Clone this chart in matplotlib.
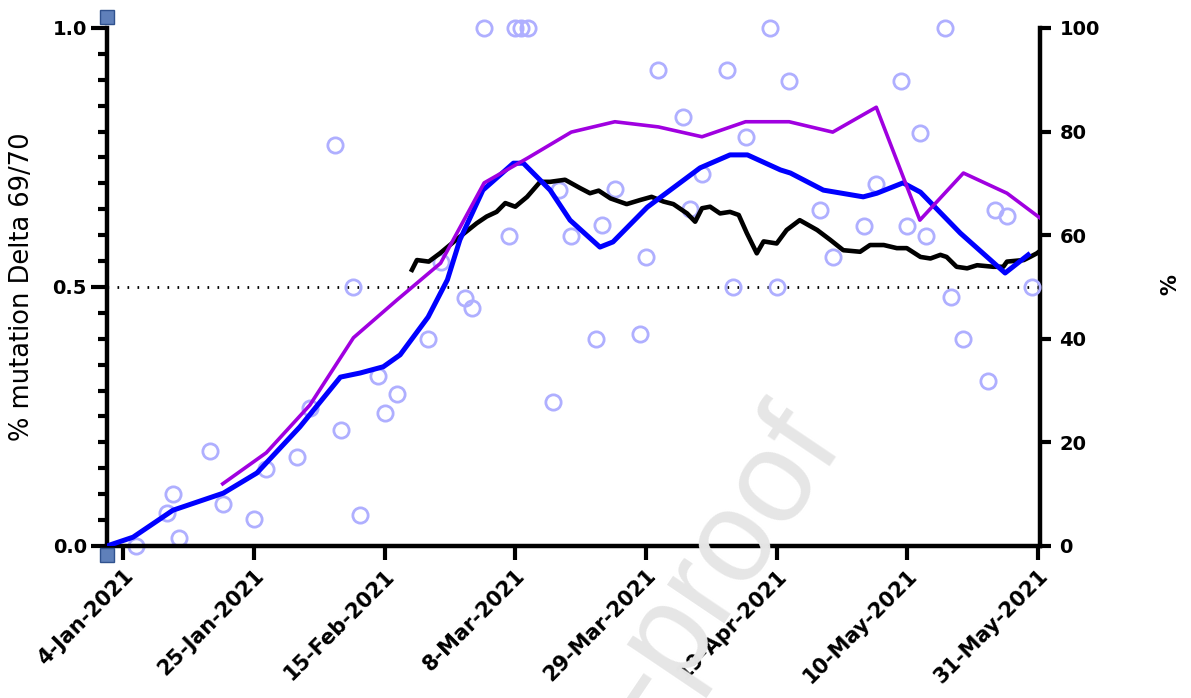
import matplotlib
matplotlib.use("Agg")
import matplotlib.pyplot as plt

plt.rcParams['font.family'] = ['DejaVu Sans']

# days counted from 4-Jan-2021
tick_days = [0, 21, 42, 63, 84, 105, 126, 147]
tick_labels = ['4-Jan-2021', '25-Jan-2021', '15-Feb-2021', '8-Mar-2021',
               '29-Mar-2021', '19-Apr-2021', '10-May-2021', '31-May-2021']

# single-sample fraction of reads with the 69/70 deletion
sample_day = [2, 7, 8, 9, 14, 16, 21, 23, 28, 30, 34, 35, 37, 38, 41, 42, 44,
              49, 51, 55, 56, 58, 62, 63, 64, 65, 69, 70, 72, 76, 77, 79, 83,
              84, 86, 90, 91, 93, 97, 98, 100, 104, 105, 107, 112, 114, 119,
              121, 125, 126, 128, 129, 132, 133, 135, 139, 140, 142, 146]
sample_frac = [0.0, 0.064, 0.10, 0.015, 0.183, 0.081, 0.052, 0.149, 0.172,
               0.266, 0.774, 0.224, 0.50, 0.060, 0.328, 0.257, 0.293, 0.40,
               0.548, 0.479, 0.459, 1.0, 0.598, 1.0, 1.0, 1.0, 0.278, 0.687,
               0.598, 0.40, 0.62, 0.689, 0.409, 0.558, 0.919, 0.828, 0.651,
               0.718, 0.919, 0.50, 0.79, 1.0, 0.50, 0.898, 0.649, 0.558,
               0.618, 0.699, 0.898, 0.618, 0.797, 0.598, 1.0, 0.481, 0.40,
               0.319, 0.649, 0.637, 0.50]

# smoothed trend of the sample fractions
trend_day = [-2.6, 1.6, 8.0, 16.1, 21.5, 28.4, 34.9, 38.1, 41.8, 44.5, 49.0,
             52.1, 54.1, 57.8, 62.7, 64.3, 68.6, 71.8, 76.6, 78.7, 84.2, 92.7,
             97.5, 100.3, 105.6, 107.2, 112.5, 118.9, 121.1, 125.3, 128.1,
             134.5, 141.7, 145.4]
trend_frac = [0.0, 0.017, 0.069, 0.102, 0.141, 0.230, 0.326, 0.334, 0.346,
              0.369, 0.442, 0.514, 0.591, 0.687, 0.739, 0.739, 0.687, 0.629,
              0.577, 0.587, 0.654, 0.730, 0.755, 0.755, 0.726, 0.720, 0.687,
              0.674, 0.681, 0.701, 0.683, 0.604, 0.527, 0.562]

# weekly percentage (right axis)
week_day = [16, 23, 30, 37, 44, 51, 58, 65, 72, 79, 86, 93, 100, 107, 114,
            121, 128, 135, 142, 149]
week_pct = [12.0, 18.0, 27.2, 40.2, 47.5, 54.6, 70.1, 74.9, 79.9, 81.9, 80.9,
            79.0, 81.9, 81.9, 79.9, 84.7, 62.9, 72.0, 68.1, 61.8]

# rolling average percentage (right axis)
roll_day = [46.4, 47.2, 49.1, 50.9, 52.5, 54.1, 56.8, 58.4, 60.0, 61.4, 63.0,
            64.9, 67.0, 68.6, 71.0, 73.4, 75.0, 76.4, 78.3, 80.9, 83.1, 84.9,
            86.8, 88.4, 90.6, 91.9, 93.0, 94.3, 95.9, 97.5, 98.9, 100.2, 101.8,
            102.9, 105.0, 106.6, 108.7, 111.5, 113.6, 115.7, 118.4, 120.0,
            122.2, 124.3, 125.9, 128.1, 129.7, 131.3, 132.3, 133.9, 135.6,
            137.2, 139.8, 141.4, 142.0, 144.7, 145.7, 146.8, 147.9]
roll_pct = [53.3, 55.2, 54.9, 56.5, 58.1, 59.7, 62.3, 63.6, 64.5, 66.2, 65.5,
            67.4, 70.3, 70.3, 70.7, 69.1, 68.1, 68.6, 67.1, 66.0, 66.8, 67.4,
            66.5, 66.0, 64.2, 62.6, 65.2, 65.5, 64.2, 64.5, 63.9, 60.4, 56.5,
            58.8, 58.4, 61.0, 62.9, 61.0, 59.1, 57.1, 56.8, 58.1, 58.1, 57.5,
            57.5, 55.8, 55.5, 56.2, 55.8, 53.9, 53.6, 54.2, 53.9, 53.9, 54.9,
            55.2, 55.8, 56.5, 57.5]

fig = plt.figure(figsize=(11.91, 6.98), dpi=100)
ax = fig.add_axes([0.0898, 0.2178, 0.7834, 0.7421])

ax.plot(sample_day, sample_frac, 'o', ms=11, mfc='none', mec='#afafff',
        mew=2, zorder=2, clip_on=False)
ax.axhline(0.5, color='black', lw=2, linestyle=(0, (0.6, 3)), zorder=1)
ax.plot(roll_day, [p / 100 for p in roll_pct], color='black', lw=3.3,
        zorder=3)
ax.plot(trend_day, trend_frac, color='#0000ff', lw=3.6, zorder=4)
ax.plot(week_day, [p / 100 for p in week_pct], color='#a000e0', lw=2.6,
        zorder=5)

ax.set_xlim(-2.6, 147.3)
ax.set_ylim(0, 1)

ax.spines['top'].set_visible(False)
ax.spines['right'].set_visible(False)
for side in ['left', 'bottom']:
    ax.spines[side].set_linewidth(3.2)

ax.set_yticks([0, 0.5, 1.0])
ax.set_yticklabels(['0.0', '0.5', '1.0'], fontweight='bold')
ax.set_yticks([i * 0.05 for i in range(21)], minor=True)
ax.tick_params(axis='y', which='major', length=11.5, width=3, pad=3,
               labelsize=14)
ax.tick_params(axis='y', which='minor', length=6.5, width=3)

ax.set_xticks(tick_days)
ax.set_xticklabels(tick_labels, rotation=45, ha='right',
                   rotation_mode='anchor', fontweight='bold')
ax.tick_params(axis='x', length=10, width=3, pad=4, labelsize=15)

ax.set_ylabel('% mutation Delta 69/70', fontsize=18.5)
ax.yaxis.set_label_coords(-0.077, 0.5)

pct_ax = ax.secondary_yaxis('right', functions=(lambda v: v * 100,
                                                lambda p: p / 100))
pct_ax.set_yticks([0, 20, 40, 60, 80, 100])
pct_ax.set_yticklabels(['0', '20', '40', '60', '80', '100'],
                       fontweight='bold')
pct_ax.tick_params(length=8, width=3, pad=6, labelsize=14)
pct_ax.spines['right'].set_linewidth(3.2)
fig.text(0.9824, 0.592, '%', rotation=90, ha='center', va='center',
         fontsize=15, fontweight='bold')

# square markers at the ends of the left axis
for y in [1.021, -0.017]:
    ax.plot([0], [y], 's', ms=10.5, mfc='#5f80ba', mec='#30528e', mew=1,
            transform=ax.transAxes, clip_on=False, zorder=6)

fig.text(0.7095, 0.361, 'Journal Pre-proof', rotation=56, ha='right',
         va='baseline', rotation_mode='anchor', fontsize=93,
         family='Liberation Sans', color='#e6e6e6', zorder=10)

fig.savefig('out.png', dpi=100)
